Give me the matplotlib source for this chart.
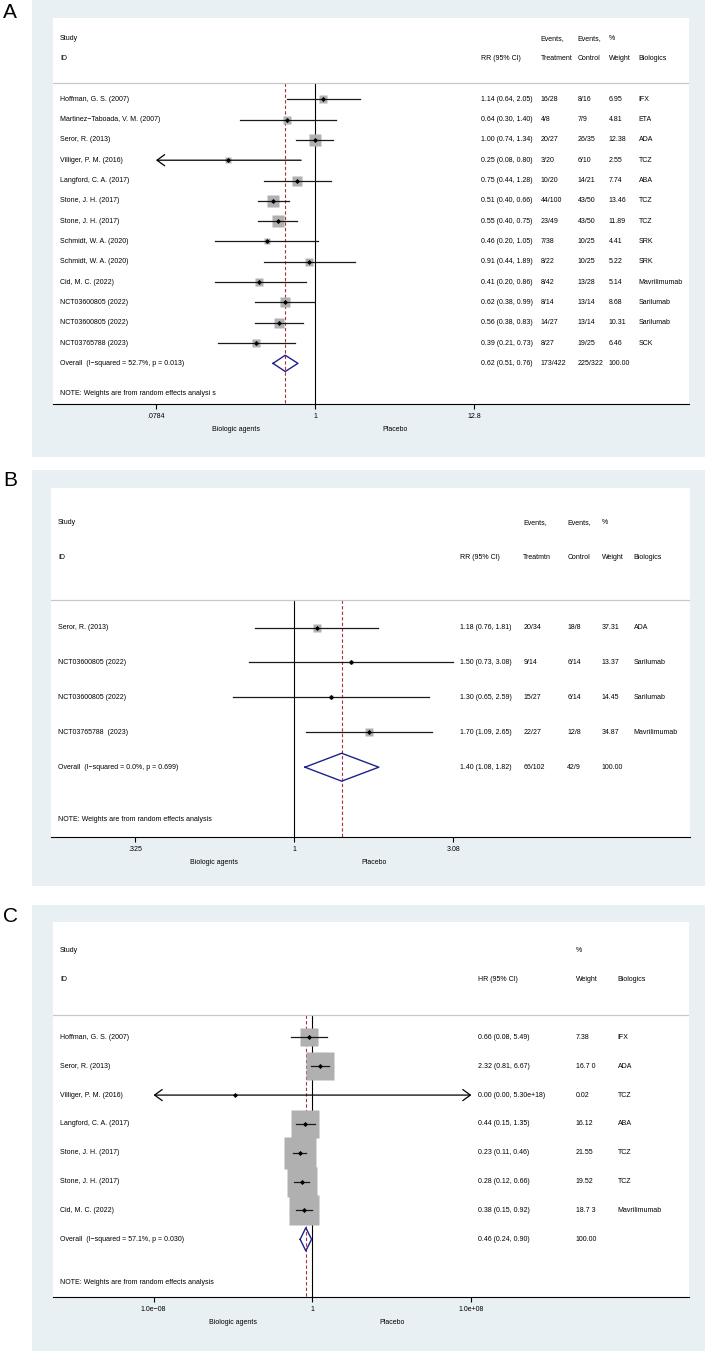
import numpy as np
import matplotlib

matplotlib.use("Agg")
import matplotlib.pyplot as plt
from matplotlib.ticker import NullLocator

plt.rcParams["font.family"] = ["Liberation Sans", "DejaVu Sans"]

# ---------------- panel A ----------------
a_study = ["Hoffman, G. S. (2007)", "Martinez\u2212Taboada, V. M. (2007)", "Seror, R. (2013)",
           "Villiger, P. M. (2016)", "Langford, C. A. (2017)", "Stone, J. H. (2017)",
           "Stone, J. H. (2017)", "Schmidt, W. A. (2020)", "Schmidt, W. A. (2020)",
           "Cid, M. C. (2022)", "NCT03600805 (2022)", "NCT03600805 (2022)", "NCT03765788 (2023)"]
a_rr = [1.14, 0.64, 1.00, 0.25, 0.75, 0.51, 0.55, 0.46, 0.91, 0.41, 0.62, 0.56, 0.39]
a_lo = [0.64, 0.30, 0.74, 0.077, 0.44, 0.40, 0.40, 0.20, 0.44, 0.20, 0.38, 0.38, 0.21]
a_hi = [2.05, 1.40, 1.34, 0.80, 1.28, 0.66, 0.75, 1.05, 1.89, 0.86, 0.99, 0.83, 0.73]
a_treat = ["16/28", "4/8", "20/27", "3/20", "10/20", "44/100", "23/49", "7/38", "8/22",
           "8/42", "8/14", "14/27", "8/27"]
a_ctrl = ["8/16", "7/9", "26/35", "6/10", "14/21", "43/50", "43/50", "10/25", "10/25",
          "13/28", "13/14", "13/14", "19/25"]
a_weight = [6.95, 4.81, 12.38, 2.55, 7.74, 13.46, 11.89, 4.41, 5.22, 5.14, 8.68, 10.31, 6.46]
a_drug = ["IFX", "ETA", "ADA", "TCZ", "ABA", "TCZ", "TCZ", "SRK", "SRK", "Mavrilimumab",
          "Sarilumab", "Sarilumab", "SCK"]
a_pooled = [0.62, 0.51, 0.76]
a_pooled_label = "Overall  (I\u2212squared = 52.7%, p = 0.013)"
a_pooled_treat, a_pooled_ctrl = "173/422", "225/322"
a_ticks = [0.0784, 1, 12.8]
a_tick_labels = [".0784", "1", "12.8"]

# ---------------- panel B ----------------
b_study = ["Seror, R. (2013)", "NCT03600805 (2022)", "NCT03600805 (2022)", "NCT03765788  (2023)"]
b_rr = [1.18, 1.50, 1.30, 1.70]
b_lo = [0.76, 0.73, 0.65, 1.09]
b_hi = [1.81, 3.08, 2.59, 2.65]
b_treat = ["20/34", "9/14", "15/27", "22/27"]
b_ctrl = ["18/8", "6/14", "6/14", "12/8"]
b_weight = [37.31, 13.37, 14.45, 34.87]
b_drug = ["ADA", "Sarilumab", "Sarilumab", "Mavrilimumab"]
b_pooled = [1.40, 1.08, 1.82]
b_pooled_label = "Overall  (I\u2212squared = 0.0%, p = 0.699)"
b_pooled_treat, b_pooled_ctrl = "66/102", "42/9"
b_ticks = [0.325, 1, 3.08]
b_tick_labels = [".325", "1", "3.08"]

# ---------------- panel C ----------------
c_study = ["Hoffman, G. S. (2007)", "Seror, R. (2013)", "Villiger, P. M. (2016)",
           "Langford, C. A. (2017)", "Stone, J. H. (2017)", "Stone, J. H. (2017)",
           "Cid, M. C. (2022)"]
c_hr = [0.66, 2.32, 1.2e-4, 0.44, 0.23, 0.28, 0.38]
c_lo = [0.08, 0.81, 2.7e-27, 0.15, 0.11, 0.12, 0.15]
c_hi = [5.49, 6.67, 5.30e18, 1.35, 0.46, 0.66, 0.92]
c_weight = [7.38, 16.70, 0.02, 16.12, 21.55, 19.52, 18.73]
c_weight_text = ["7.38", "16.7 0", "0.02", "16.12", "21.55", "19.52", "18.7 3"]
c_drug = ["IFX", "ADA", "TCZ", "ABA", "TCZ", "TCZ", "Mavrilimumab"]
c_pooled = [0.46, 0.24, 0.90]
c_pooled_label = "Overall  (I\u2212squared = 57.1%, p = 0.030)"
c_ticks = [1e-8, 1, 1e8]
c_tick_labels = ["1.0e\u221208", "1", "1.0e+08"]

W, H = 705, 1351
BG = "#e9f0f3"
BOX = "#b0b0b0"
NAVY = "#1e2288"
RED = "#a8323c"
FS = 5


def rect(x0, y0, x1, y1):
    return [x0 / W, 1 - y1 / H, (x1 - x0) / W, (y1 - y0) / H]


def fmt(v):
    return f"{v:.2e}" if v >= 1e4 else f"{v:.2f}"


def forest(bg_box, white_box, letter_y, letter, studies, est, lo, hi, weights, pooled,
           pooled_label, cols, ticks, tick_labels, xlim, box_px, note):
    bg = fig.add_axes(rect(*bg_box))
    bg.set_facecolor(BG)
    bg.set_xticks([])
    bg.set_yticks([])
    for s in bg.spines.values():
        s.set_visible(False)
    fig.text(3 / W, 1 - letter_y / H, letter, fontsize=15, ha="left", va="center")

    ax = fig.add_axes(rect(*white_box))
    ax.set_facecolor("white")
    n = len(studies)
    ax.set_xscale("log")
    ax.set_xlim(xlim)
    ax.set_ylim(n + 2, -4)
    for side in ("top", "left", "right"):
        ax.spines[side].set_visible(False)
    ax.spines["bottom"].set_linewidth(0.8)
    ax.set_yticks([])
    ax.set_xticks(ticks)
    ax.set_xticklabels(tick_labels)
    ax.xaxis.set_minor_locator(NullLocator())
    ax.tick_params(axis="x", direction="out", length=3.6, width=0.8, pad=3, labelsize=FS)

    ax.axhline(-0.78, color="#c8c8c8", lw=0.9)
    ax.vlines(1, -0.78, n + 2, color="black", lw=0.8, zorder=1)
    ax.vlines(pooled[0], -0.78, n + 2, color=RED, lw=0.8, linestyles=(0, (3, 2)), zorder=1.5)

    tmin, tmax = ticks[0], ticks[-1]
    for i in range(n):
        ax.plot(est[i], i, marker="s", ms=box_px * np.sqrt(weights[i]) * 0.72,
                color=BOX, mec="none", zorder=3)
        l, h = max(lo[i], tmin), min(hi[i], tmax)
        if lo[i] < tmin or hi[i] > tmax:
            style = "<->" if (lo[i] < tmin and hi[i] > tmax) else ("<-" if lo[i] < tmin else "->")
            ax.annotate("", xy=(h, i), xytext=(l, i),
                        arrowprops=dict(arrowstyle=style + ",head_length=0.55,head_width=0.4",
                                        color="black", lw=0.9, shrinkA=0, shrinkB=0), zorder=4)
        else:
            ax.plot([l, h], [i, i], color="#1a1a1a", lw=0.9, zorder=4)
        ax.plot(est[i], i, marker="D", ms=2.6, color="black", mec="none", zorder=5)

    pe, pl, ph = pooled
    ax.plot([pl, pe, ph, pe, pl], [n, n - 0.4, n, n + 0.4, n], color=NAVY, lw=1.0, zorder=4)

    tr = ax.get_yaxis_transform()
    ax.text(0.011, -3, "Study", transform=tr, fontsize=FS, va="center")
    ax.text(0.011, -2, "ID", transform=tr, fontsize=FS, va="center")
    for i, s in enumerate(studies):
        ax.text(0.011, i, s, transform=tr, fontsize=FS, va="center")
    ax.text(0.011, n, pooled_label, transform=tr, fontsize=FS, va="center")
    ax.text(0.011, n + 1.5, note, transform=tr, fontsize=FS, va="center")

    for xf, top, bottom, values in cols:
        if top:
            ax.text(xf, -3, top, transform=tr, fontsize=FS, va="center")
        ax.text(xf, -2, bottom, transform=tr, fontsize=FS, va="center")
        for i, v in enumerate(values):
            ax.text(xf, i, v, transform=tr, fontsize=FS, va="center")

    for lab, xv in (("Biologic agents", np.sqrt(tmin)), ("Placebo", np.sqrt(tmax))):
        ax.annotate(lab, xy=(xv, 0), xycoords=("data", "axes fraction"), xytext=(0, -18.7),
                    textcoords="offset points", ha="center", va="center", fontsize=FS)


def ci_text(est, lo, hi, pooled):
    rows = [f"{fmt(e)} ({fmt(l)}, {fmt(h)})" for e, l, h in zip(est, lo, hi)]
    rows.append(f"{fmt(pooled[0])} ({fmt(pooled[1])}, {fmt(pooled[2])})")
    return rows


fig = plt.figure(figsize=(W / 100, H / 100), dpi=100)

forest((32, 0, 705, 457), (53, 18, 689, 404), 13, "A", a_study, a_rr, a_lo, a_hi, a_weight,
       a_pooled, a_pooled_label,
       [(0.673, None, "RR (95% CI)", ci_text(a_rr, a_lo, a_hi, a_pooled)),
        (0.767, "Events,", "Treatment", a_treat + [a_pooled_treat]),
        (0.825, "Events,", "Control", a_ctrl + [a_pooled_ctrl]),
        (0.874, "%", "Weight", [f"{w:.2f}" for w in a_weight] + ["100.00"]),
        (0.921, None, "Biologics", a_drug)],
       a_ticks, a_tick_labels, (0.0151, 396), 3.25,
       "NOTE: Weights are from random effects analysi s")

forest((32, 470, 705, 886), (51, 488, 690, 837), 480, "B", b_study, b_rr, b_lo, b_hi, b_weight,
       b_pooled, b_pooled_label,
       [(0.640, None, "RR (95% CI)", ci_text(b_rr, b_lo, b_hi, b_pooled)),
        (0.739, "Events,", "Treatmtn", b_treat + [b_pooled_treat]),
        (0.808, "Events,", "Control", b_ctrl + [b_pooled_ctrl]),
        (0.862, "%", "Weight", [f"{w:.2f}" for w in b_weight] + ["100.00"]),
        (0.912, None, "Biologics", b_drug)],
       b_ticks, b_tick_labels, (0.1796, 16.4), 1.26,
       "NOTE: Weights are from random effects analysis")

forest((32, 905, 705, 1351), (53, 922, 689, 1297), 916, "C", c_study, c_hr, c_lo, c_hi, c_weight,
       c_pooled, c_pooled_label,
       [(0.668, None, "HR (95% CI)", ci_text(c_hr, c_lo, c_hi, c_pooled)),
        (0.822, "%", "Weight", c_weight_text + ["100.00"]),
        (0.888, None, "Biologics", c_drug)],
       c_ticks, c_tick_labels, (8.7e-14, 8.9e18), 6.75,
       "NOTE: Weights are from random effects analysis")

fig.savefig("out.png", dpi=100)
